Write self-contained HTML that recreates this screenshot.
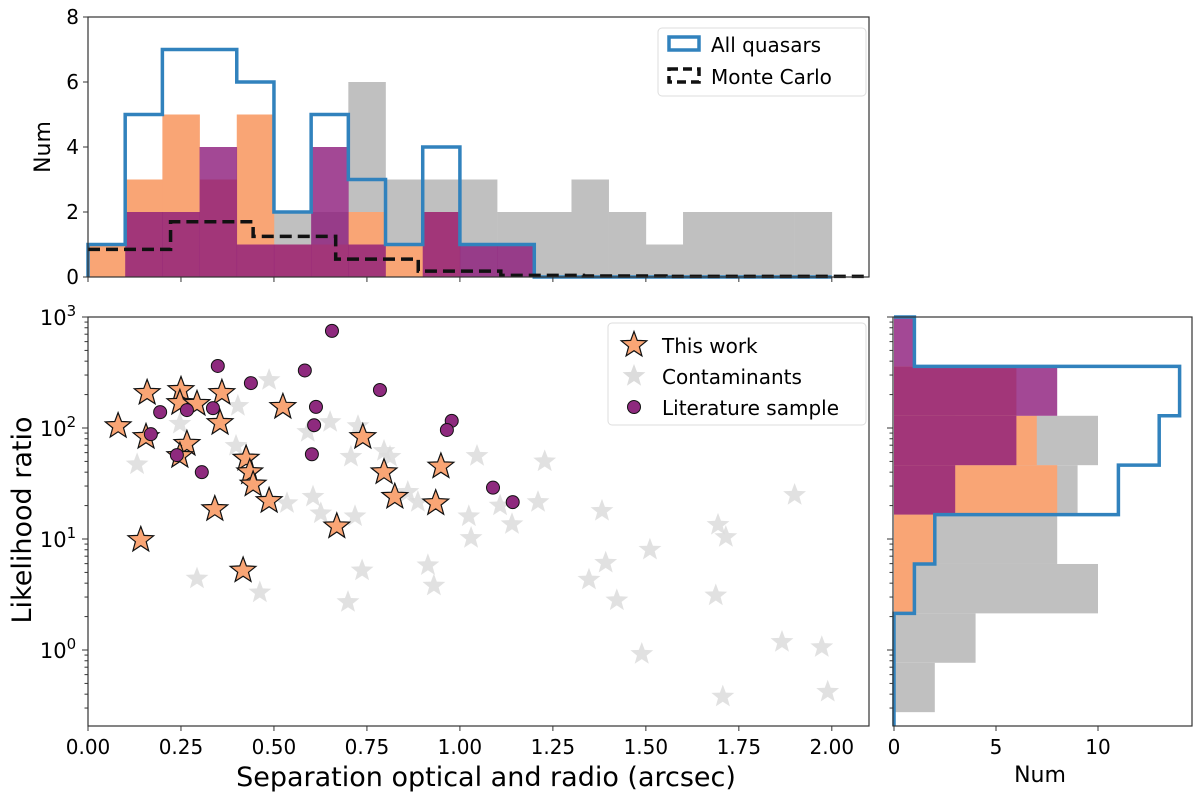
<!DOCTYPE html>
<html><head><meta charset="utf-8">
<style>
html,body{margin:0;padding:0;background:#fff;}
svg{display:block;font-family:"DejaVu Sans","Liberation Sans",sans-serif;}
</style></head>
<body>
<svg id="fig" width="1200" height="794" viewBox="0 0 1200 794" xmlns="http://www.w3.org/2000/svg"></svg>
<script>
// ---- data ----
const topBinWidth = 0.1;
const histContaminants = [0,1,1,1,1,2,2,6,3,3,3,2,2,3,2,1,2,2,2,2];
const histThisWork = [1,3,5,3,5,1,1,2,1,2,0,0,0,0,0,0,0,0,0,0];
const histLiterature = [0,2,2,4,1,1,4,1,0,2,1,1,0,0,0,0,0,0,0,0];
const histAllQuasars = [1,5,7,7,6,2,5,3,1,4,1,1,0,0,0,0,0,0,0,0];
const mcBinWidth = 0.222;
const histMonteCarlo = [0.85,1.7,1.25,0.55,0.18,0.05,0.03,0.02,0.02];
const topYTicks = [0,2,4,6,8];
const sepTicks = [0,0.25,0.5,0.75,1.0,1.25,1.5,1.75,2.0];
const sepTickLabels = ["0.00","0.25","0.50","0.75","1.00","1.25","1.50","1.75","2.00"];

const thisWorkSep = [0.081,0.159,0.156,0.25,0.247,0.293,0.266,0.247,0.36,0.355,0.524,0.425,0.435,0.444,0.487,0.341,0.142,0.417,0.669,0.739,0.796,0.825,0.949,0.935];
const thisWorkLR = [104,207,83,220,168,165,72,56,207,111,155,53,40,31,22,18.6,9.8,5.2,13,83,40,24,45,21];
const litSep = [0.656,0.349,0.583,0.438,0.785,0.194,0.266,0.336,0.613,0.608,0.978,0.965,0.169,0.239,0.602,0.306,1.089,1.142];
const litLR = [750,362,330,254,220,139,145,151,155,106,116,96,88,57,58,40,29,21.5];
const contSep = [0.487,0.403,0.247,0.591,0.651,0.726,0.398,0.132,0.707,0.796,0.812,1.046,0.535,0.605,0.626,0.718,0.86,0.887,1.024,1.108,1.14,1.03,0.293,0.462,0.699,0.737,0.914,0.93,1.228,1.21,1.382,1.9,1.694,1.715,1.511,1.392,1.347,1.422,1.688,1.489,1.866,1.973,1.707,1.989];
const contLR = [270,158,109,92,113,104,69,47,55,62,55,56,21,24,17,16,26.5,21.5,16,20,13.6,10.2,4.4,3.3,2.7,5.2,5.8,3.8,50,21.5,17.9,24.9,13.4,10.4,8,6.1,4.3,2.8,3.1,0.92,1.18,1.06,0.38,0.42];

const rightBinEdgesLog = [3.0,2.555,2.11,1.665,1.22,0.775,0.33,-0.115,-0.56];
const rContaminants = [0,3,10,9,8,10,4,2];
const rThisWork = [0,6,7,8,2,1,0,0];
const rLiterature = [1,8,6,3,0,0,0,0];
const rAllQuasars = [1,14,13,11,2,1,0,0];
const rightXTicks = [0,5,10];

// ---- layout ----
const svg = document.getElementById('fig');
const NS = "http://www.w3.org/2000/svg";
function mk(tag, attrs, parent){const e=document.createElementNS(NS,tag);for(const k in attrs)e.setAttribute(k,attrs[k]);(parent||svg).appendChild(e);return e;}

const L=88,R=869;
const sx = v => L + v*(R-L)/2.1;
const TT=17,TB=277;
const tyT = v => TB - v*(TB-TT)/8;
const ST=317,SB=726;
const ly = v => 317 + (3-Math.log10(v))*111;
const lyLog = lg => 317 + (3-lg)*111;
const RL=893,RR=1192;
const rx = v => 894 + v*20.4;
const TICKFS=20;

const GRAY="#c0c0c0", ORANGE="#f9a575", PURPLE="#8c1a7a", BLUE="#3182bd";

// ---- top histogram ----
const gTop = mk('g',{});


function bars(arr, w, fill, op, name, parent){
  arr.forEach((v,i)=>{ if(v<=0) return;
    const r=mk('rect',{x:sx(i*w),y:tyT(v),width:sx((i+1)*w)-sx(i*w)+0.3,height:tyT(0)-tyT(v),fill:fill,'fill-opacity':op},parent);
    
    
  });
}
bars(histContaminants,topBinWidth,GRAY,1,'contaminants',gTop);
bars(histThisWork,topBinWidth,ORANGE,1,'this-work',gTop);
bars(histLiterature,topBinWidth,PURPLE,0.8,'literature',gTop);
function stepPath(arr,w,yf){
  let d=`M${sx(0)},${yf(0)}`;
  arr.forEach((v,i)=>{d+=` L${sx(i*w)},${yf(v)} L${sx((i+1)*w)},${yf(v)}`;});
  d+=` L${sx(arr.length*w)},${yf(0)}`;
  return d;
}
const aq=mk('path',{d:stepPath(histAllQuasars,topBinWidth,tyT),fill:'none',stroke:BLUE,'stroke-width':3.5},gTop);


let mcd=`M${sx(0)},${tyT(histMonteCarlo[0])}`;
histMonteCarlo.forEach((v,i)=>{mcd+=` L${sx(i*mcBinWidth)},${tyT(v)} L${sx(Math.min((i+1)*mcBinWidth,2.1))},${tyT(v)}`;});
mcd+=` L${sx(2.1)},${tyT(histMonteCarlo[histMonteCarlo.length-1])}`;
const mc=mk('path',{d:mcd,fill:'none',stroke:'#111','stroke-width':3.5,'stroke-dasharray':'12,6'},gTop);


mk('rect',{x:L,y:TT,width:R-L,height:TB-TT,fill:'none',stroke:'#333','stroke-width':1.2},gTop);
topYTicks.forEach(v=>{
  mk('line',{x1:L-5,x2:L,y1:tyT(v),y2:tyT(v),stroke:'#333'},gTop);
  const t=mk('text',{x:L-9,y:tyT(v)+7,'text-anchor':'end','font-size':TICKFS},gTop);t.textContent=v;
  
  
});
sepTicks.forEach(v=>mk('line',{x1:sx(v),x2:sx(v),y1:TB,y2:TB+5,stroke:'#333'},gTop));
const ny=mk('text',{x:0,y:0,'font-size':22,'text-anchor':'middle',transform:`translate(50,147) rotate(-90)`},gTop);ny.textContent='Num';


// top legend
const lg1=mk('g',{},gTop);


mk('rect',{x:658,y:28,width:208,height:68,rx:4,fill:'#fff',stroke:'#ddd'},lg1);
mk('rect',{x:669,y:37,width:30,height:13,fill:'none',stroke:BLUE,'stroke-width':3.5},lg1);
const t1=mk('text',{x:711,y:52,'font-size':20},lg1);t1.textContent='All quasars';
mk('rect',{x:669,y:69,width:30,height:13,fill:'none',stroke:'#111','stroke-width':3.5,'stroke-dasharray':'9,5'},lg1);
const t2=mk('text',{x:711,y:84,'font-size':20},lg1);t2.textContent='Monte Carlo';

// ---- scatter ----
const gS=mk('g',{});


function starPath(cx,cy,r){
  let d='';const ri=r*0.42;
  for(let k=0;k<10;k++){const a=-Math.PI/2+k*Math.PI/5;const rr=k%2?ri:r;d+=(k?'L':'M')+(cx+rr*Math.cos(a)).toFixed(1)+','+(cy+rr*Math.sin(a)).toFixed(1);}
  return d+'Z';
}
contSep.forEach((s,i)=>{
  const p=mk('path',{d:starPath(sx(s),ly(contLR[i]),12),fill:'#dcdcdc','fill-opacity':0.85},gS);
  
  
});
thisWorkSep.forEach((s,i)=>{
  const p=mk('path',{d:starPath(sx(s),ly(thisWorkLR[i]),13.5),fill:ORANGE,stroke:'#111','stroke-width':1.2},gS);
  
  
});
litSep.forEach((s,i)=>{
  const c=mk('circle',{cx:sx(s),cy:ly(litLR[i]),r:6.5,fill:'#8e2a7e',stroke:'#111','stroke-width':1},gS);
  
  
});
mk('rect',{x:L,y:ST,width:R-L,height:SB-ST,fill:'none',stroke:'#333','stroke-width':1.2},gS);
function logTicks(parent,x0,labels){
  for(let e=-1;e<3;e++){for(let m=1;m<10;m++){const v=m*Math.pow(10,e);const y=ly(v);if(y<ST-0.5||y>SB)continue;
    mk('line',{x1:x0-(m==1?6:3.5),x2:x0,y1:y,y2:y,stroke:'#333'},parent);}}
  mk('line',{x1:x0-6,x2:x0,y1:ly(1000),y2:ly(1000),stroke:'#333'},parent);
  if(labels){[0,1,2,3].forEach(e=>{
    const t=mk('text',{x:x0-30,y:ly(Math.pow(10,e))+8,'text-anchor':'middle','font-size':21},parent);
    t.innerHTML='10<tspan dy="-9" font-size="15">'+e+'</tspan>';
    
    
  });}
}
logTicks(gS,L,true);
sepTicks.forEach((v,i)=>{
  mk('line',{x1:sx(v),x2:sx(v),y1:SB,y2:SB+5,stroke:'#333'},gS);
  const t=mk('text',{x:sx(v),y:SB+28,'text-anchor':'middle','font-size':TICKFS},gS);t.textContent=sepTickLabels[i];
  
  
});
const xl=mk('text',{x:486,y:786,'text-anchor':'middle','font-size':27},gS);xl.textContent='Separation optical and radio (arcsec)';


const yl=mk('text',{x:0,y:0,'text-anchor':'middle','font-size':27,transform:'translate(31,520) rotate(-90)'},gS);yl.textContent='Likelihood ratio';


// scatter legend
const lg2=mk('g',{},gS);


mk('rect',{x:608,y:323,width:258,height:102,rx:4,fill:'#fff','fill-opacity':0.8,stroke:'#ddd'},lg2);
mk('path',{d:starPath(634,345,13.5),fill:ORANGE,stroke:'#111','stroke-width':1.2},lg2);
mk('path',{d:starPath(634,376,12),fill:'#dcdcdc'},lg2);
mk('circle',{cx:634,cy:407,r:6.5,fill:'#8e2a7e',stroke:'#111'},lg2);
[['This work',353],['Contaminants',384],['Literature sample',415]].forEach(a=>{const t=mk('text',{x:662,y:a[1],'font-size':20},lg2);t.textContent=a[0];});

// ---- right histogram ----
const gR=mk('g',{});


function hbars(arr,fill,op,name){
  arr.forEach((v,i)=>{if(v<=0)return;
    const y1=lyLog(rightBinEdgesLog[i]), y2=lyLog(rightBinEdgesLog[i+1]);
    const r=mk('rect',{x:rx(0),y:Math.max(y1,ST),width:rx(v)-rx(0),height:y2-Math.max(y1,ST),fill:fill,'fill-opacity':op},gR);
    
    
  });
}
hbars(rContaminants,GRAY,1,'contaminants');
hbars(rThisWork,ORANGE,1,'this-work');
hbars(rLiterature,PURPLE,0.8,'literature');
let rd=`M${rx(0)},${lyLog(rightBinEdgesLog[0])}`;
rAllQuasars.forEach((v,i)=>{rd+=` L${rx(v)},${lyLog(rightBinEdgesLog[i])} L${rx(v)},${lyLog(rightBinEdgesLog[i+1])}`;});
rd+=` L${rx(0)},${lyLog(rightBinEdgesLog[rightBinEdgesLog.length-1])} L${rx(0)},${SB}`;
const rq=mk('path',{d:rd,fill:'none',stroke:BLUE,'stroke-width':3.5},gR);


mk('rect',{x:RL,y:ST,width:RR-RL,height:SB-ST,fill:'none',stroke:'#333','stroke-width':1.2},gR);
logTicks(gR,RL,false);
rightXTicks.forEach(v=>{
  mk('line',{x1:rx(v),x2:rx(v),y1:SB,y2:SB+5,stroke:'#333'},gR);
  const t=mk('text',{x:rx(v),y:SB+28,'text-anchor':'middle','font-size':TICKFS},gR);t.textContent=v;
  
  
});
const rn=mk('text',{x:1040,y:782,'text-anchor':'middle','font-size':22},gR);rn.textContent='Num';


</script>
</body></html>
